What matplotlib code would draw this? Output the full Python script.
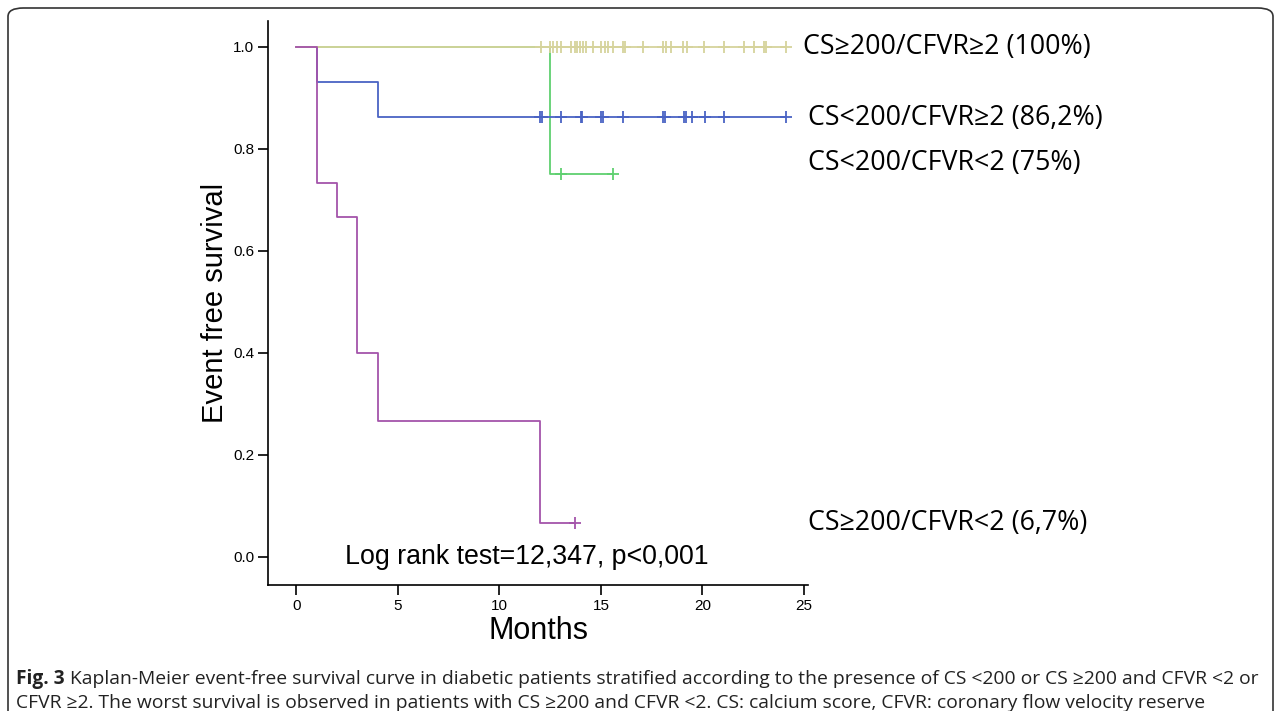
import matplotlib.pyplot as plt
from matplotlib.patches import FancyBboxPatch

# step curves: (times of drops, survival after drop), end time
purple_t = [0, 1, 2, 3, 4, 12]
purple_s = [1.0, 0.733, 0.667, 0.40, 0.267, 0.067]
purple_end = 13.7
purple_cens = [13.7]

blue_t = [0, 1, 4]
blue_s = [1.0, 0.931, 0.862]
blue_end = 24.1
blue_cens = [12.0, 12.1, 13.05, 14.0, 14.05, 15.0, 15.1, 16.1, 18.05, 18.15,
             19.1, 19.2, 19.5, 20.1, 21.05, 24.1]

green_t = [0, 12.5]
green_s = [1.0, 0.75]
green_end = 15.6
green_cens = [13.05, 15.6]

yellow_t = [0]
yellow_s = [1.0]
yellow_end = 24.1
yellow_cens = [12.07, 12.51, 12.64, 12.84, 13.05, 13.54, 13.70, 13.84, 13.95, 14.11,
               14.28, 14.60, 15.02, 15.18, 15.34, 15.59, 16.08, 16.16, 17.06, 18.04,
               18.21, 18.45, 19.02, 19.22, 20.09, 21.07, 22.05, 22.54, 23.03, 23.15, 24.1]

labels = ["CS≥200/CFVR≥2 (100%)", "CS<200/CFVR≥2 (86,2%)",
          "CS<200/CFVR<2 (75%)", "CS≥200/CFVR<2 (6,7%)"]
label_x = [24.95, 25.2, 25.2, 25.2]
label_y = [1.0, 0.861, 0.773, 0.067]

fig = plt.figure(figsize=(12.81, 7.11), dpi=100)
ax = fig.add_axes([0.2092, 0.1772, 0.4216, 0.7926])


def surv_at(ts, ss, x):
    v = ss[0]
    for t, s in zip(ts, ss):
        if t <= x:
            v = s
    return v


def draw(ts, ss, end, cens, color, z):
    xs = list(ts) + [end]
    ys = list(ss) + [ss[-1]]
    ax.step(xs, ys, where='post', color=color, lw=1.3, zorder=z)
    ax.plot(cens, [surv_at(ts, ss, c) for c in cens], ls='none', marker='+',
            ms=8, mew=1.3, color=color, zorder=z)


draw(green_t, green_s, green_end, green_cens, '#5fd070', 2)
draw(blue_t, blue_s, blue_end, blue_cens, '#4a63c4', 3)
draw(yellow_t, yellow_s, yellow_end, yellow_cens, '#d6d39c', 4)
draw(purple_t, purple_s, purple_end, purple_cens, '#a454aa', 5)

ax.set_xlim(-1.4, 25.2)
ax.set_ylim(-0.055, 1.05)
ax.set_xticks([0, 5, 10, 15, 20, 25])
ax.set_yticks([0.0, 0.2, 0.4, 0.6, 0.8, 1.0])
ax.yaxis.set_major_formatter(plt.FormatStrFormatter('%.1f'))
ax.spines['top'].set_visible(False)
ax.spines['right'].set_visible(False)
ax.spines['left'].set_linewidth(1.2)
ax.spines['bottom'].set_linewidth(1.2)
ax.tick_params(direction='out', length=7, width=1.2, labelsize=11, pad=3)
for lab in ax.get_xticklabels() + ax.get_yticklabels():
    lab.set_family('Liberation Sans')

ax.set_xlabel("Months", fontsize=22, family='Liberation Sans', labelpad=2)
ax.set_ylabel("Event free survival", fontsize=21, family='Liberation Sans', labelpad=3)

ax.text(2.4, 0.0, "Log rank test=12,347, p<0,001", fontsize=19.3,
        family='Liberation Sans', va='center', ha='left')

for lab, x, y in zip(labels, label_x, label_y):
    ax.text(x, y, lab, fontsize=19.3, family=['Open Sans', 'DejaVu Sans'],
            va='center', ha='left', clip_on=False)

# frame around the figure
frame = FancyBboxPatch((8 / 1281, -0.05), 1265 / 1281, 0.05 + 703 / 711,
                       boxstyle='round,pad=0,rounding_size=0.012',
                       transform=fig.transFigure, fill=False, lw=1.2,
                       ec='#333333', clip_on=False)
fig.patches.append(frame)

cap_font = ['Open Sans', 'DejaVu Sans']
t1 = fig.text(16 / 1281, 1 - 679 / 711, "Fig. 3", fontsize=13.8, weight='bold',
              family=cap_font, va='center', ha='left', color='#222222')
fig.canvas.draw()
bb = t1.get_window_extent()
fig.text((bb.x1 + 5) / 1281, 1 - 679 / 711,
         "Kaplan-Meier event-free survival curve in diabetic patients stratified according to "
         "the presence of CS <200 or CS \u2265200 and CFVR <2 or",
         fontsize=13.85, family=cap_font, va='center', ha='left', color='#222222')
fig.text(16 / 1281, 1 - 703 / 711,
         "CFVR \u22652. The worst survival is observed in patients with CS \u2265200 and CFVR <2. "
         "CS: calcium score, CFVR: coronary flow velocity reserve",
         fontsize=13.85, family=cap_font, va='center', ha='left', color='#222222')

fig.savefig("out.png", dpi=100)
